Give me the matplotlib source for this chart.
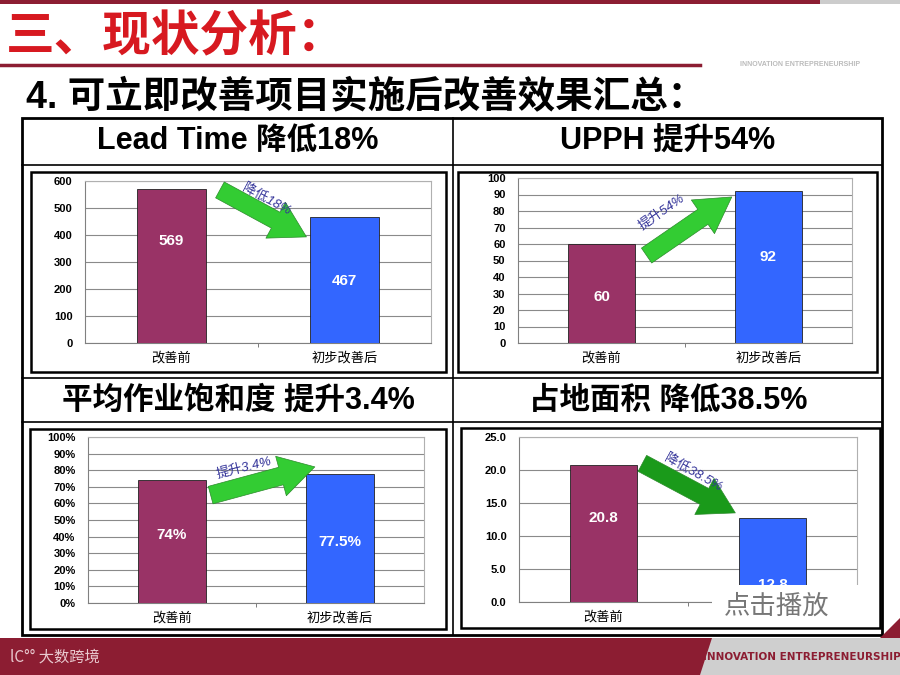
import matplotlib.pyplot as plt
from matplotlib.patches import Rectangle, Polygon
from matplotlib.ticker import FuncFormatter, MultipleLocator

plt.rcParams['font.family'] = ['Liberation Sans', 'Noto Sans CJK SC', 'DejaVu Sans']

# 数据
categories = ['改善前', '初步改善后']
lead_time = [569, 467]
upph = [60, 92]
saturation = [0.74, 0.775]
floor_area = [20.8, 12.8]

lead_labels = ['569', '467']
upph_labels = ['60', '92']
saturation_labels = ['74%', '77.5%']
floor_labels = ['20.8', '12.8']

headers = ['Lead Time 降低18%', 'UPPH 提升54%', '平均作业饱和度 提升3.4%', '占地面积 降低38.5%']
arrow_texts = ['降低18%', '提升54%', '提升3.4%', '降低38.5%']

W, H = 900, 675
MAROON = '#993366'
BLUE = '#3366ff'
DARKRED = '#8c1d32'


def fx(x):
    return x / W


def fy(y):
    return 1 - y / H


def box(x0, y0, x1, y1):
    return [fx(x0), fy(y1), (x1 - x0) / W, (y1 - y0) / H]


fig = plt.figure(figsize=(9, 6.75), dpi=100)
fig.patch.set_facecolor('white')


def frect(x0, y0, x1, y1, **kw):
    fig.add_artist(Rectangle((fx(x0), fy(y1)), (x1 - x0) / W, (y1 - y0) / H,
                             transform=fig.transFigure, **kw))


def fline(x0, y0, x1, y1, **kw):
    fig.add_artist(plt.Line2D([fx(x0), fx(x1)], [fy(y0), fy(y1)],
                              transform=fig.transFigure, **kw))


# 顶部装饰
frect(0, 0, 820, 4, color=DARKRED, lw=0)
frect(820, 0, 900, 4, color='#cccccc', lw=0)
fline(0, 65, 700, 65, color=DARKRED, lw=2.5)
fig.text(fx(800), fy(64), 'INNOVATION ENTREPRENEURSHIP', color='#bbbbbb',
         fontsize=5, fontweight='bold', ha='center', va='center')

fig.text(fx(6), fy(37), '三、现状分析：', color='#d71920', fontsize=35,
         fontweight='bold', family=['Noto Sans CJK SC'], ha='left', va='center')
fig.text(fx(26), fy(97), '4. 可立即改善项目实施后改善效果汇总：', color='black',
         fontsize=27, fontweight='bold', ha='left', va='center')

# 表格框
frect(22, 118, 882, 635, fill=False, ec='black', lw=2)
fline(22, 165, 882, 165, color='black', lw=1.2)
fline(22, 378, 882, 378, color='black', lw=1.2)
fline(22, 422, 882, 422, color='black', lw=1.2)
fline(453, 118, 453, 635, color='black', lw=1.2)

for (cx, cy), t in zip([(238, 142), (668, 142), (238, 401), (668, 401)], headers):
    fig.text(fx(cx), fy(cy), t, fontsize=22, fontweight='bold',
             ha='center', va='center')

# 图表布局
panels = [
    dict(vals=lead_time, labels=lead_labels, frame=(31, 172, 446, 372),
         plot=(85, 181, 431, 343), ylim=600, step=100, fmt=lambda v, p: f'{v:.0f}',
         label_y=[378, 230], arrow=((0.28, 567), (0.78, 393)), arrow_c='#33cc33',
         text_xy=(0.55, 530), rot=-28),
    dict(vals=upph, labels=upph_labels, frame=(458, 172, 877, 372),
         plot=(518, 178, 852, 343), ylim=100, step=10, fmt=lambda v, p: f'{v:.0f}',
         label_y=[28, 52], arrow=((0.27, 53), (0.78, 88.5)), arrow_c='#33cc33',
         text_xy=(0.36, 79), rot=35),
    dict(vals=saturation, labels=saturation_labels, frame=(30, 429, 446, 629),
         plot=(88, 437, 424, 603), ylim=1.0, step=0.1, fmt=lambda v, p: f'{v:.0%}',
         label_y=[0.41, 0.37], arrow=((0.23, 0.65), (0.85, 0.82)), arrow_c='#33cc33',
         text_xy=(0.43, 0.815), rot=14),
    dict(vals=floor_area, labels=floor_labels, frame=(461, 428, 880, 628),
         plot=(519, 437, 857, 602), ylim=25, step=5, fmt=lambda v, p: f'{v:.1f}',
         label_y=[12.7, 2.6], arrow=((0.23, 21), (0.78, 13.5)), arrow_c='#1a9a1a',
         text_xy=(0.53, 19.6), rot=-29),
]

axes = []
for k, p in enumerate(panels):
    frect(*p['frame'], fill=False, ec='black', lw=1.8)
    ax = fig.add_axes(box(*p['plot']))
    axes.append(ax)
    ax.bar([0, 1], p['vals'], width=0.4, color=[MAROON, BLUE],
           edgecolor='#222222', lw=0.6, zorder=3)
    ax.set_xlim(-0.5, 1.5)
    ax.set_ylim(0, p['ylim'])
    ax.yaxis.set_major_locator(MultipleLocator(p['step']))
    ax.yaxis.set_major_formatter(FuncFormatter(p['fmt']))
    ax.grid(axis='y', color='#8a8a8a', lw=0.8, zorder=0)
    ax.set_xticks([0, 1], categories)
    ax.set_xticks([0.5], minor=True)
    ax.tick_params(axis='x', which='major', length=0, pad=6, labelsize=9.5)
    ax.tick_params(axis='x', which='minor', length=3, color='#666666')
    ax.tick_params(axis='y', length=0, pad=9, labelsize=8)
    for lab in ax.get_yticklabels():
        lab.set_fontweight('bold')
    for s in ['left', 'bottom']:
        ax.spines[s].set_color('#808080')
    for s in ['top', 'right']:
        ax.spines[s].set_color('#b0b0b0')
    for i, (ly, t) in enumerate(zip(p['label_y'], p['labels'])):
        ax.text(i, ly, t, color='white', fontsize=11, fontweight='bold',
                ha='center', va='center', zorder=5)
    (x1, y1), (x2, y2) = p['arrow']
    ax.annotate('', xy=(x2, y2), xytext=(x1, y1), zorder=6,
                arrowprops=dict(arrowstyle='simple,head_length=1.2,head_width=1.4,tail_width=0.62',
                                mutation_scale=21, fc=p['arrow_c'], ec='#2a8a2a', lw=0.5,
                                shrinkA=0, shrinkB=0))
    ax.text(*p['text_xy'], arrow_texts[k], color='#333399', fontsize=9.5,
            rotation=p['rot'], rotation_mode='anchor', ha='center', va='center',
            style='italic', zorder=7)

# 第四张图右侧类别被"点击播放"遮挡
axes[3].get_xticklabels()[1].set_visible(False)

# "点击播放"遮挡
frect(712, 585, 860, 627, color='white', lw=0, zorder=10)
fig.text(fx(777), fy(606), '点击播放', color='#777777', fontsize=19,
         family=['Noto Sans CJK SC'], ha='center', va='center', zorder=11)

# 页脚
frect(0, 638, 900, 675, color=DARKRED, lw=0)
fig.add_artist(Polygon([[fx(700), fy(675)], [fx(712), fy(638)], [fx(900), fy(638)], [fx(900), fy(675)]],
                       closed=True, transform=fig.transFigure, color='#cfcfcf', lw=0))
fig.add_artist(Polygon([[fx(880), fy(638)], [fx(900), fy(618)], [fx(900), fy(638)]],
                       closed=True, transform=fig.transFigure, color=DARKRED, lw=0))
fig.text(fx(802), fy(657), 'INNOVATION ENTREPRENEURSHIP', color=DARKRED, fontsize=7.5,
         fontweight='bold', family=['DejaVu Sans'],
         ha='center', va='center')
fig.text(fx(10), fy(657), 'lC°° 大数跨境', color='#e9c9cf', fontsize=11,
         family=['Noto Sans CJK SC', 'DejaVu Sans'], ha='left', va='center')

fig.savefig('out.png', dpi=100, facecolor='white')
